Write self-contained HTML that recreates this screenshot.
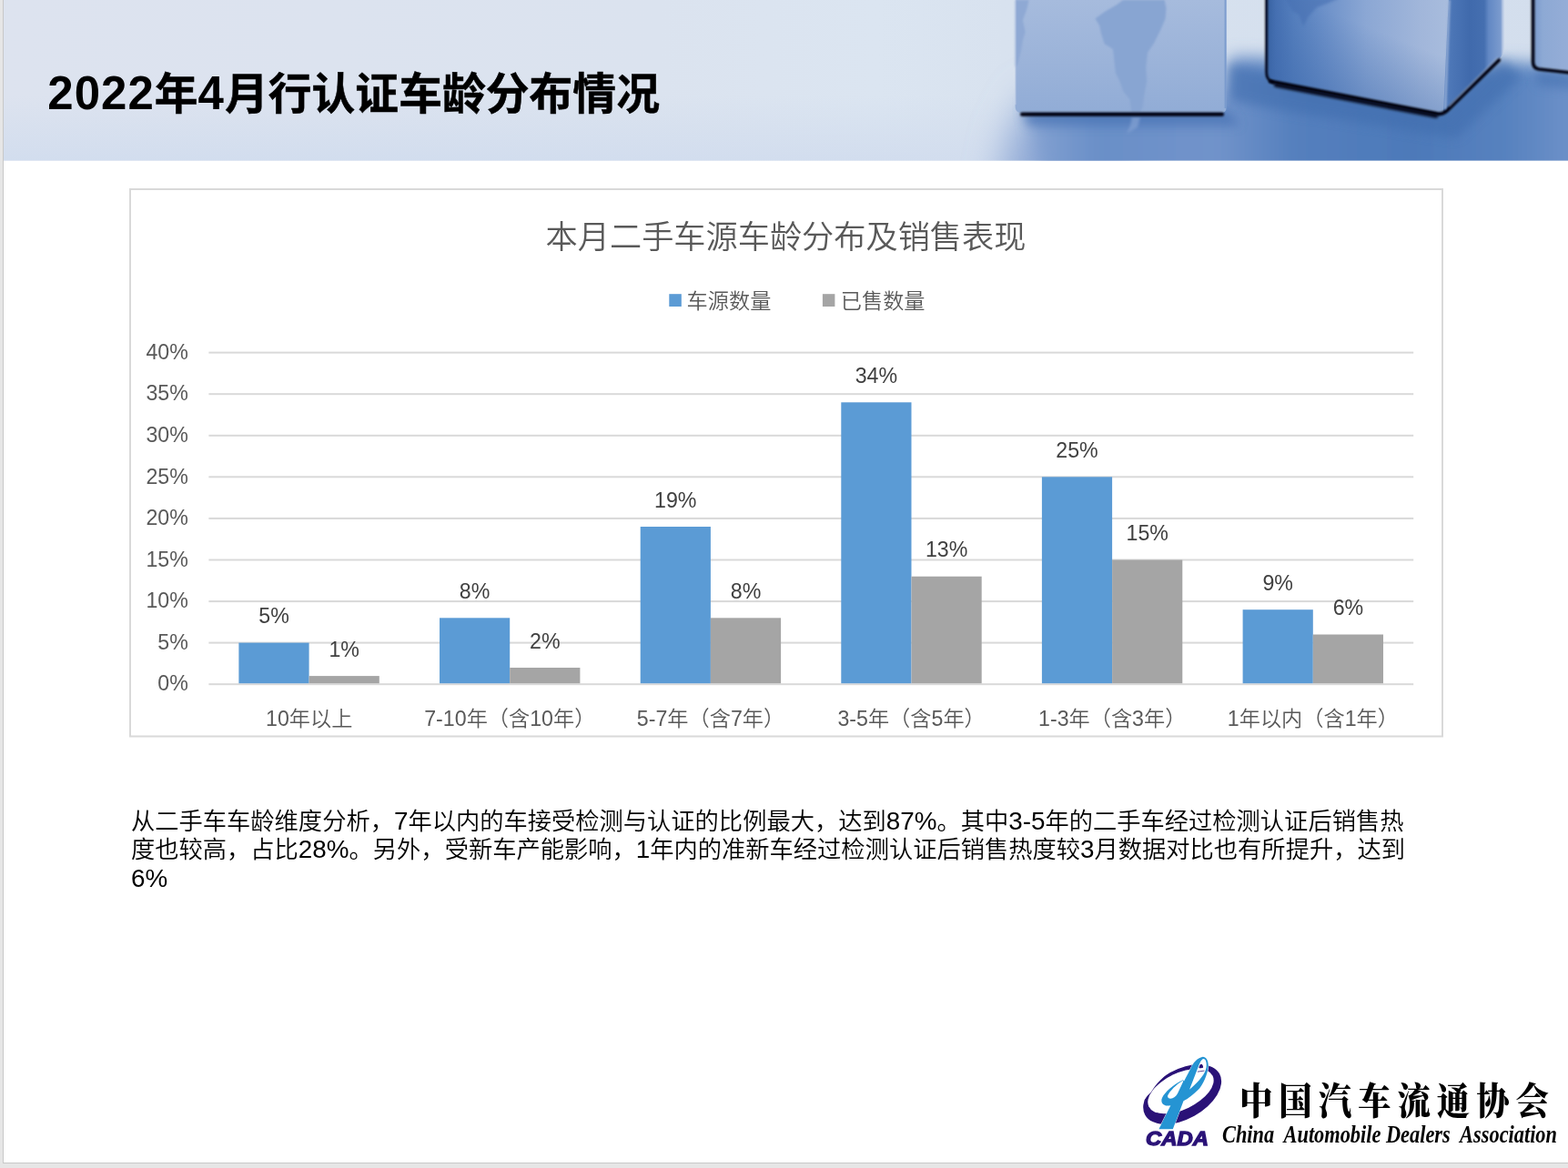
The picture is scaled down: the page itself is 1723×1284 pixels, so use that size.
<!DOCTYPE html>
<html lang="zh-CN">
<head>
<meta charset="utf-8">
<title>2022年4月行认证车龄分布情况</title>
<style>
html,body{margin:0;padding:0;}
body{width:1723px;height:1284px;overflow:hidden;background:#e6e6e6;position:relative;font-family:"Liberation Sans","Noto Sans CJK SC",sans-serif;}
#slide{position:absolute;left:3px;top:0;width:1720px;height:1278px;background:#fff;border-left:1px solid #c8c8c8;border-bottom:1px solid #c8c8c8;box-sizing:content-box;overflow:hidden;}
#slide>*{position:absolute;}
#hdr{left:0;top:0;width:1719px;height:177px;}
#title{left:48.3px;top:68px;font-family:"Liberation Sans","Noto Sans CJK SC",sans-serif;font-weight:700;font-size:47.8px;line-height:70px;white-space:nowrap;color:#000;-webkit-text-stroke:0.5px #000;}
#title .n{font-size:51px;letter-spacing:1px;-webkit-text-stroke:0;}
#chart{left:0;top:0;width:1719px;height:1278px;}
.cd{font-family:"Liberation Sans","Noto Sans CJK SC",sans-serif;fill:#404040;}
.ct{font-family:"Liberation Sans","Noto Sans CJK SC",sans-serif;fill:#595959;font-weight:350;}
#body{left:140px;top:887.8px;font-weight:350;width:1460px;font-size:26.27px;line-height:31.5px;color:#000;white-space:nowrap;font-family:"Liberation Sans","Noto Sans CJK SC",sans-serif;}
#body .l{font-size:106%;line-height:0;}
#logo{left:1236px;top:1150px;width:479px;height:128px;}
</style>
</head>
<body>
<div id="slide">
<!--HEADER-->
<svg id="hdr" viewBox="4 0 1719 177" preserveAspectRatio="none">
<defs>
<linearGradient id="gBase" x1="0" y1="0" x2="1723" y2="0" gradientUnits="userSpaceOnUse">
<stop offset="0" stop-color="#dde3ef"/><stop offset="0.42" stop-color="#dbe3ef"/><stop offset="0.56" stop-color="#dbe5f1"/><stop offset="0.64" stop-color="#d8e2ef"/><stop offset="1" stop-color="#d3deed"/>
</linearGradient>
<linearGradient id="gBot" x1="0" y1="105" x2="0" y2="177" gradientUnits="userSpaceOnUse">
<stop offset="0" stop-color="#d2ddee" stop-opacity="0"/><stop offset="1" stop-color="#d2ddee" stop-opacity="1"/>
</linearGradient>
<linearGradient id="gFloor" x1="1060" y1="0" x2="1723" y2="0" gradientUnits="userSpaceOnUse">
<stop offset="0" stop-color="#9fb6db"/><stop offset="0.1" stop-color="#86a3d2"/><stop offset="0.22" stop-color="#6a8fc8"/><stop offset="0.42" stop-color="#7193ca"/><stop offset="0.55" stop-color="#547fbd"/><stop offset="0.75" stop-color="#4d79b9"/><stop offset="0.9" stop-color="#5782bf"/><stop offset="1" stop-color="#6c90c8"/>
</linearGradient>
<linearGradient id="gC1" x1="0" y1="0" x2="0" y2="125" gradientUnits="userSpaceOnUse">
<stop offset="0" stop-color="#a6bbdd"/><stop offset="0.55" stop-color="#9bb3d9"/><stop offset="1" stop-color="#91acd6"/>
</linearGradient>
<linearGradient id="gC2" x1="1392" y1="0" x2="1590" y2="0" gradientUnits="userSpaceOnUse">
<stop offset="0" stop-color="#36609f"/><stop offset="0.05" stop-color="#4670b2"/><stop offset="0.15" stop-color="#5680be"/><stop offset="0.3" stop-color="#6a8fc8"/><stop offset="0.55" stop-color="#8ba7d4"/><stop offset="0.85" stop-color="#a1b6da"/><stop offset="1" stop-color="#a8bcdd"/>
</linearGradient>
<linearGradient id="gC2d" x1="1480" y1="20" x2="1440" y2="120" gradientUnits="userSpaceOnUse">
<stop offset="0" stop-color="#3e6aad" stop-opacity="0"/><stop offset="1" stop-color="#3e6aad" stop-opacity="0.6"/>
</linearGradient>
<linearGradient id="gC2s" x1="1590" y1="0" x2="1652" y2="0" gradientUnits="userSpaceOnUse">
<stop offset="0" stop-color="#4f79b9"/><stop offset="0.4" stop-color="#406aac"/><stop offset="0.66" stop-color="#456fb0"/><stop offset="0.74" stop-color="#6288c4"/><stop offset="0.95" stop-color="#7b9bce"/><stop offset="1" stop-color="#c5d3e8"/>
</linearGradient>
<linearGradient id="gC3" x1="1684" y1="0" x2="1723" y2="0" gradientUnits="userSpaceOnUse">
<stop offset="0" stop-color="#7a9acd"/><stop offset="0.3" stop-color="#8da9d4"/><stop offset="1" stop-color="#95add7"/>
</linearGradient>
<filter id="b1" filterUnits="userSpaceOnUse" x="900" y="-40" width="900" height="260"><feGaussianBlur stdDeviation="0.9"/></filter>
<filter id="b2" filterUnits="userSpaceOnUse" x="900" y="-40" width="900" height="260"><feGaussianBlur stdDeviation="1.6"/></filter>
<filter id="b6" filterUnits="userSpaceOnUse" x="900" y="-40" width="900" height="260"><feGaussianBlur stdDeviation="6"/></filter>
<filter id="b20" filterUnits="userSpaceOnUse" x="900" y="-60" width="900" height="400"><feGaussianBlur stdDeviation="20"/></filter>
<filter id="b10" filterUnits="userSpaceOnUse" x="900" y="-60" width="900" height="320"><feGaussianBlur stdDeviation="9"/></filter>
<clipPath id="hc"><rect x="0" y="0" width="1723" height="176.6"/></clipPath>
</defs>
<g clip-path="url(#hc)">
<rect x="0" y="0" width="1723" height="177" fill="url(#gBase)"/>
<rect x="0" y="100" width="1723" height="77" fill="url(#gBot)"/>
<!-- blue floor -->
<path d="M1082 290 L1110 150 L1134 105 L1250 105 L1250 290 Z" fill="#8fa9d5" filter="url(#b20)"/>
<path d="M1150 240 L1132 108 L1340 108 L1353 62 L1400 64 L1400 72 L1640 72 L1653 68 L1690 70 L1780 74 L1780 240 Z" fill="url(#gFloor)" filter="url(#b10)"/>
<!-- shadows under cubes -->
<path d="M1122 122 L1350 122 L1362 138 L1130 138 Z" fill="#4672b4" opacity="0.75" filter="url(#b6)"/>
<path d="M1350 70 L1392 80 L1584 126 L1650 64 L1672 84 L1600 152 L1400 120 L1352 110 Z" fill="#416dae" opacity="0.6" filter="url(#b6)"/>
<path d="M1686 76 L1730 80 L1730 98 L1690 94 Z" fill="#416dae" opacity="0.55" filter="url(#b6)"/>
<!-- cube 1 -->
<path d="M1115.6 -5 L1347.6 -5 L1347.6 118 Q1347.6 124 1341.6 124 L1122 124 Q1115.6 124 1115.6 117.5 Z" fill="url(#gC1)"/>
<rect x="1345.6" y="-5" width="2" height="124" fill="#6d91c9" opacity="0.7"/>
<path d="M1115.6 0 L1130.5 0 L1128.6 9.3 L1123.9 22.3 L1126.7 35.3 L1123.9 44.6 L1122 55.7 L1118.3 70.6 L1115.6 74 Z" fill="#8fa9d4" filter="url(#b1)"/>
<path d="M1203.5 20.4 L1213.7 13 L1226.7 5.6 L1234.2 0 L1279.7 0 L1281.5 9.3 L1280.6 20.4 L1275 33.4 L1267.6 48.3 L1261.1 57.6 L1259.2 74.3 L1260.2 89.2 L1257.4 104 L1255.5 118.9 L1252 124 L1243.4 124 L1241.6 109.6 L1234.2 100.3 L1230.4 89.2 L1225.8 79.9 L1223 53.9 L1213.7 48.3 L1210 37.1 L1208.2 27.9 Z" fill="#88a5d2" filter="url(#b1)"/>
<path d="M1244 129 L1253 129 L1250 140 L1238 147 L1242 138 Z" fill="#7f9ed0" opacity="0.8" filter="url(#b2)"/>
<rect x="1121" y="123.6" width="224" height="4.2" rx="2" fill="#03060f" filter="url(#b1)"/>
<rect x="1115" y="-5" width="1.6" height="120" fill="#c9d6ea" opacity="0.5"/>
<!-- cube 2 -->
<path d="M1391 -5 L1592 -5 L1587 125 L1397 90 Q1391 88 1391 80 Z" fill="url(#gC2)"/>
<path d="M1391 -5 L1592 -5 L1587 125 L1397 90 Q1391 88 1391 80 Z" fill="url(#gC2d)"/>
<path d="M1592 -5 L1653 -5 L1653 52 Q1653 59 1648 64 L1588 123.5 L1586 124 Z" fill="url(#gC2s)"/>
<path d="M1391.6 -5 L1391.6 79 Q1391.6 88.5 1399 90.5" stroke="#03060f" stroke-width="2.6" fill="none" stroke-linecap="round" filter="url(#b1)"/>
<path d="M1396 89.5 L1579 125 Q1585 126 1589.5 122 L1647 66" stroke="#03060f" stroke-width="4" fill="none" stroke-linecap="round" stroke-linejoin="round" filter="url(#b1)"/>
<path d="M1402 93.5 L1578 127.5" stroke="#03060f" stroke-width="4.5" fill="none" stroke-linecap="round" filter="url(#b2)" opacity="0.9"/>
<path d="M1412 -2 L1420 12 L1427 16 L1432 29 L1438 18 L1447 8 L1458 4 L1472 -2 Z" fill="#4670b2" opacity="0.6" filter="url(#b2)"/>
<path d="M1592.5 0 L1588 120" stroke="#9cb3d9" stroke-width="2.5" opacity="0.9" filter="url(#b1)"/>
<path d="M1592 117 L1646 63" stroke="#a9bcdd" stroke-width="1.6" opacity="0.7" filter="url(#b1)"/>
<!-- cube 3 -->
<path d="M1684 -5 L1730 -5 L1730 80 L1690 75.5 Q1684 74.5 1684 69 Z" fill="url(#gC3)"/>
<path d="M1684.5 -5 L1684.5 68 Q1684.5 75 1691 76 L1730 80.5" stroke="#03060f" stroke-width="3.6" fill="none" stroke-linecap="round" filter="url(#b1)"/>
</g>
</svg>
<div id="title"><span class="n">2022</span>年<span class="n">4</span>月行认证车龄分布情况</div>
<!--CHART-->
<svg id="chart" viewBox="4 0 1719 1278">
<rect x="143" y="208" width="1442" height="601.5" fill="#fff" stroke="#d9d9d9" stroke-width="2"/>
<text class="ct" x="863.5" y="272.5" font-size="35.2" text-anchor="middle">本月二手车源车龄分布及销售表现</text>
<rect x="735.3" y="323.2" width="13.5" height="13.8" fill="#5b9bd5"/>
<text class="ct" x="754.6" y="338.6" font-size="23.2">车源数量</text>
<rect x="903.9" y="323.2" width="13.5" height="13.8" fill="#a5a5a5"/>
<text class="ct" x="923.8" y="338.6" font-size="23.2">已售数量</text>
<rect x="229.4" y="751.2" width="1323.8" height="2" fill="#d9d9d9"/>
<text class="ct" x="206.8" y="759.4" font-size="23.2" text-anchor="end">0%</text>
<rect x="229.4" y="705.6" width="1323.8" height="2" fill="#d9d9d9"/>
<text class="ct" x="206.8" y="713.8" font-size="23.2" text-anchor="end">5%</text>
<rect x="229.4" y="660.1" width="1323.8" height="2" fill="#d9d9d9"/>
<text class="ct" x="206.8" y="668.3" font-size="23.2" text-anchor="end">10%</text>
<rect x="229.4" y="614.5" width="1323.8" height="2" fill="#d9d9d9"/>
<text class="ct" x="206.8" y="622.7" font-size="23.2" text-anchor="end">15%</text>
<rect x="229.4" y="568.9" width="1323.8" height="2" fill="#d9d9d9"/>
<text class="ct" x="206.8" y="577.1" font-size="23.2" text-anchor="end">20%</text>
<rect x="229.4" y="523.3" width="1323.8" height="2" fill="#d9d9d9"/>
<text class="ct" x="206.8" y="531.5" font-size="23.2" text-anchor="end">25%</text>
<rect x="229.4" y="477.8" width="1323.8" height="2" fill="#d9d9d9"/>
<text class="ct" x="206.8" y="486.0" font-size="23.2" text-anchor="end">30%</text>
<rect x="229.4" y="432.2" width="1323.8" height="2" fill="#d9d9d9"/>
<text class="ct" x="206.8" y="440.4" font-size="23.2" text-anchor="end">35%</text>
<rect x="229.4" y="386.6" width="1323.8" height="2" fill="#d9d9d9"/>
<text class="ct" x="206.8" y="394.8" font-size="23.2" text-anchor="end">40%</text>
<rect x="262.4" y="706.6" width="77.2" height="44.6" fill="#5b9bd5"/>
<rect x="339.6" y="743.1" width="77.2" height="8.1" fill="#a5a5a5"/>
<text class="cd" x="301.0" y="685.3" font-size="23.2" text-anchor="middle">5%</text>
<text class="cd" x="378.2" y="721.8" font-size="23.2" text-anchor="middle">1%</text>
<text class="ct" x="339.7" y="798.1" font-size="23.2" text-anchor="middle">10年以上</text>
<rect x="483.0" y="679.3" width="77.2" height="71.9" fill="#5b9bd5"/>
<rect x="560.2" y="734.0" width="77.2" height="17.2" fill="#a5a5a5"/>
<text class="cd" x="521.6" y="658.0" font-size="23.2" text-anchor="middle">8%</text>
<text class="cd" x="598.8" y="712.7" font-size="23.2" text-anchor="middle">2%</text>
<text class="ct" x="560.3" y="798.1" font-size="23.2" text-anchor="middle">7-10年（含10年）</text>
<rect x="703.7" y="579.0" width="77.2" height="172.2" fill="#5b9bd5"/>
<rect x="780.9" y="679.3" width="77.2" height="71.9" fill="#a5a5a5"/>
<text class="cd" x="742.3" y="557.7" font-size="23.2" text-anchor="middle">19%</text>
<text class="cd" x="819.5" y="658.0" font-size="23.2" text-anchor="middle">8%</text>
<text class="ct" x="781.0" y="798.1" font-size="23.2" text-anchor="middle">5-7年（含7年）</text>
<rect x="924.3" y="442.3" width="77.2" height="308.9" fill="#5b9bd5"/>
<rect x="1001.5" y="633.7" width="77.2" height="117.5" fill="#a5a5a5"/>
<text class="cd" x="962.9" y="421.0" font-size="23.2" text-anchor="middle">34%</text>
<text class="cd" x="1040.1" y="612.4" font-size="23.2" text-anchor="middle">13%</text>
<text class="ct" x="1001.6" y="798.1" font-size="23.2" text-anchor="middle">3-5年（含5年）</text>
<rect x="1144.9" y="524.3" width="77.2" height="226.9" fill="#5b9bd5"/>
<rect x="1222.1" y="615.5" width="77.2" height="135.7" fill="#a5a5a5"/>
<text class="cd" x="1183.5" y="503.0" font-size="23.2" text-anchor="middle">25%</text>
<text class="cd" x="1260.7" y="594.2" font-size="23.2" text-anchor="middle">15%</text>
<text class="ct" x="1222.2" y="798.1" font-size="23.2" text-anchor="middle">1-3年（含3年）</text>
<rect x="1365.6" y="670.2" width="77.2" height="81.0" fill="#5b9bd5"/>
<rect x="1442.8" y="697.5" width="77.2" height="53.7" fill="#a5a5a5"/>
<text class="cd" x="1404.2" y="648.9" font-size="23.2" text-anchor="middle">9%</text>
<text class="cd" x="1481.4" y="676.2" font-size="23.2" text-anchor="middle">6%</text>
<text class="ct" x="1442.9" y="798.1" font-size="23.2" text-anchor="middle">1年以内（含1年）</text>
</svg>
<!--BODY-->
<div id="body">从二手车车龄维度分析，<span class="l">7</span>年以内的车接受检测与认证的比例最大，达到<span class="l">87%</span>。其中<span class="l">3-5</span>年的二手车经过检测认证后销售热<br>度也较高，占比<span class="l">28%</span>。另外，受新车产能影响，<span class="l">1</span>年内的准新车经过检测认证后销售热度较<span class="l">3</span>月数据对比也有所提升，达到<br><span class="l">6%</span></div>
<!--LOGO-->
<svg id="logo" viewBox="1240 1150 479 128">
<g transform="translate(1240,1150) scale(0.093458)">
<ellipse cx="633" cy="567" rx="500" ry="292" transform="rotate(-29 633 567)" fill="#2a1277"/>
<ellipse cx="615" cy="531" rx="417" ry="214" transform="rotate(-25.7 615 531)" fill="#fff"/>
<path d="M445 335 C400 375 350 425 321 459 C300 485 280 520 266 540 C250 560 235 572 221 585 L188 630 L130 650 L130 420 L380 270 Z" fill="#fff"/>
</g>
<g transform="translate(1270,1158) scale(0.054517)">
<path d="M950 70 C1010 75 1060 130 1060 250 C1050 420 950 640 850 740 L680 730 L700 310 C750 200 830 90 950 70 Z" fill="#fff"/>
<path fill="#2594d3" stroke="#fff" stroke-width="16" paint-order="stroke" fill-rule="evenodd" d="M950 70 C1010 75 1060 130 1060 250 C1050 420 950 640 850 740 C760 830 660 910 560 960 L345 1525 L63 1525 L300 1050 C220 1065 140 1050 118 970 C100 880 230 740 400 620 C450 585 500 560 548 538 L570 560 L700 310 C750 200 830 90 950 70 Z M960 110 C1010 115 1030 180 1020 280 C1000 400 900 540 680 730 L850 290 C890 180 920 120 960 110 Z M540 548 C420 620 280 760 242 850 C225 910 290 925 340 905 C400 880 430 830 450 790 L555 565 Z"/>
<path d="M870 292 C875 250 895 218 918 216 C945 225 958 260 955 290 C930 300 895 300 870 292 Z" fill="#2a1277"/>
<path d="M842 370 L980 350" stroke="#2a1277" stroke-width="14"/>
</g>
<text x="1259" y="1258.8" font-family="'Liberation Sans',sans-serif" font-weight="700" font-style="italic" font-size="21.5" fill="#2a1277" stroke="#2a1277" stroke-width="1.3" textLength="69" lengthAdjust="spacingAndGlyphs">CADA</text>
<text transform="translate(1362,1225) scale(1,1.12)" x="0" y="0" font-family="'Noto Serif CJK SC','Liberation Serif',serif" font-weight="900" font-size="36.5" fill="#000" textLength="340" lengthAdjust="spacing">中国汽车流通协会</text>
<text x="1343" y="1256" font-family="'Liberation Serif',serif" font-style="italic" font-weight="700" font-size="27" fill="#000" textLength="368" lengthAdjust="spacingAndGlyphs" xml:space="preserve" style="white-space:pre">China  Automobile Dealers  Association</text>
</svg>
</div>
</body>
</html>
